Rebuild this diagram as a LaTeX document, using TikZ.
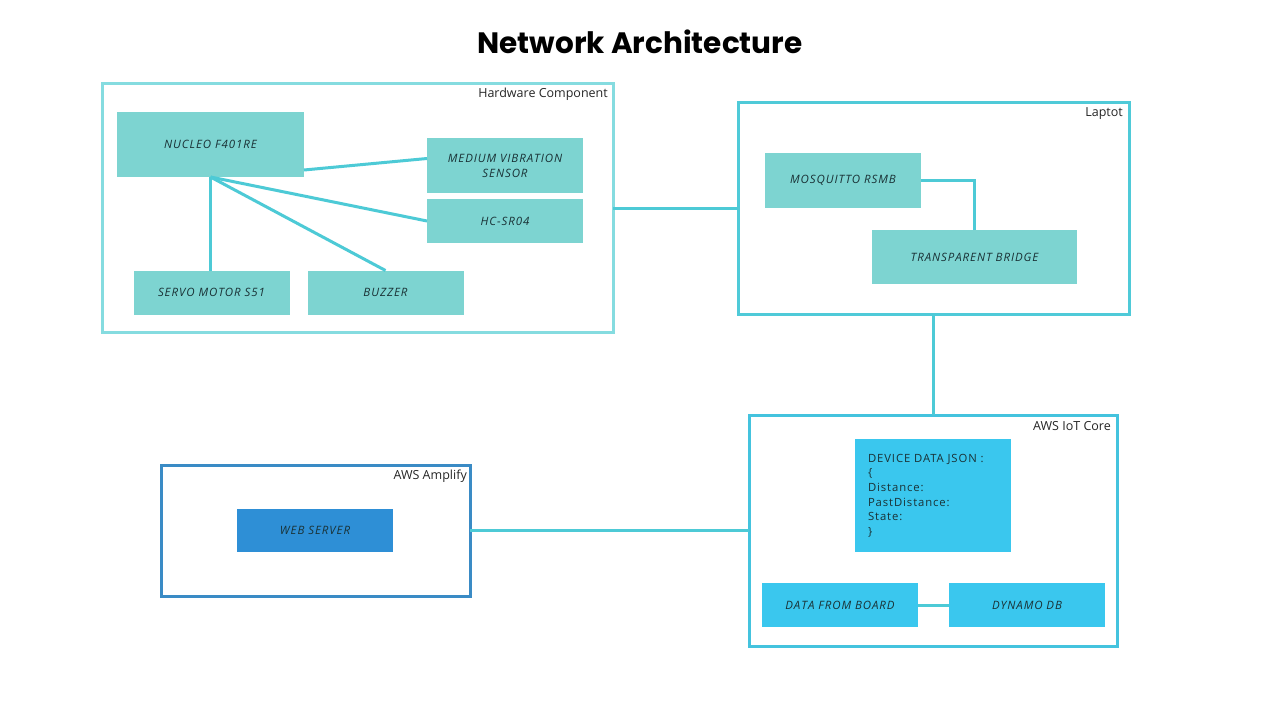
\documentclass[tikz,border=0pt]{standalone}
\usepackage{fontspec}
\setmainfont{Open Sans}
\newfontfamily\titulofont{Poppins}
\newfontfamily\cajafont[LetterSpace=8]{Open Sans}
\definecolor{verdeagua}{HTML}{7DD4D1}
\definecolor{bordeclaro}{HTML}{85DCE0}
\definecolor{bordelap}{HTML}{4FCAD8}
\definecolor{linea}{HTML}{4DCAD6}
\definecolor{celeste}{HTML}{3AC7EE}
\definecolor{bordeiot}{HTML}{44C3DE}
\definecolor{azulamp}{HTML}{3A8BC5}
\definecolor{azulweb}{HTML}{2E8FD6}
\definecolor{texto}{HTML}{1A3236}
\begin{document}
\begin{tikzpicture}[x=1pt, y=-1pt,
	marco/.style={draw, line width=3pt, outer sep=0pt, inner sep=0pt},
	etiqueta/.style={anchor=north east, inner sep=0pt, font=\fontsize{12.5}{14}\selectfont, text=black!85},
	bloque/.style={fill=verdeagua, inner sep=0pt, outer sep=0pt, align=center, text=texto, font=\cajafont\itshape\fontsize{11.5}{15}\selectfont, minimum width=156pt, minimum height=44pt},
	enlace/.style={draw=linea, line width=3pt}]
	\useasboundingbox[fill=white] (0,0) rectangle (1280,720);
			% Titulo
				\node[font=\titulofont\bfseries\fontsize{29.5}{34}\selectfont] (titulo) at (640,42) {Network Architecture};
			
			% Marcos
				\node[marco, draw=bordeclaro, minimum width=511pt, minimum height=249pt] (hw) at (357.5,208) {};
				\node[marco, draw=bordelap, minimum width=391pt, minimum height=212pt] (laptop) at (933.5,208) {};
				\node[marco, draw=bordeiot, minimum width=368pt, minimum height=231pt] (iot) at (933,530.5) {};
				\node[marco, draw=azulamp, minimum width=309pt, minimum height=131pt] (amplify) at (315.5,530.5) {};
				
				\node[etiqueta] (hwlabel) at ([xshift=-5pt,yshift=-4pt]hw.north east) {Hardware Component};
				\node[etiqueta] (laplabel) at ([xshift=-6pt,yshift=-5pt]laptop.north east) {Laptot};
				\node[etiqueta] (iotlabel) at ([xshift=-6pt,yshift=-6pt]iot.north east) {AWS IoT Core};
				\node[etiqueta] (amplabel) at ([xshift=-3pt,yshift=-5pt]amplify.north east) {AWS Amplify};
			
			% Hardware
				\node[bloque, minimum width=187pt, minimum height=65pt] (nucleo) at (210.5,144.5) {NUCLEO F401RE};
				\node[bloque, minimum height=55pt] (mvs) at (505,165.5) {MEDIUM VIBRATION\\SENSOR};
				\node[bloque] (hcsr) at (505,221) {HC-SR04};
				\node[bloque] (servo) at (211.5,292.5) {SERVO MOTOR S51};
				\node[bloque] (buzzer) at (385.5,292.5) {BUZZER};
			
			% Laptop
				\node[bloque, minimum height=55pt] (mosq) at (843,180.5) {MOSQUITTO RSMB};
				\node[bloque, minimum width=205pt, minimum height=54pt] (bridge) at (974.5,257) {TRANSPARENT BRIDGE};
			
			% AWS
				\node[bloque, fill=celeste, font=\cajafont\fontsize{11.3}{14.6}\selectfont, align=left, text width=130pt, inner xsep=13pt, minimum height=113pt] (json) at (933,495.5) {DEVICE DATA JSON :\\\{\\Distance:\\PastDistance:\\State:\\\}};
				\node[bloque, fill=celeste] (dfb) at (840,605) {DATA FROM BOARD};
				\node[bloque, fill=celeste] (dynamo) at (1027,605) {DYNAMO DB};
				\node[bloque, fill=azulweb, minimum height=43pt] (web) at (315,530.5) {WEB SERVER};
			
			% Conexiones
				\draw[enlace] ([yshift=7pt]nucleo.south east) -- ([yshift=7pt]mvs.west);
				\draw[enlace] (nucleo.south) -- (hcsr.west);
				\draw[enlace] (nucleo.south) -- (buzzer.north);
				\draw[enlace] (nucleo.south) -- (nucleo.south |- servo.north);
				\draw[enlace] (hw.east) -- (laptop.west);
				\draw[enlace] (mosq.east) -| (bridge.north);
				\draw[enlace] (laptop.south) -- (laptop.south |- iot.north);
				\draw[enlace] (iot.west) -- (amplify.east);
				\draw[enlace] (dfb.east) -- (dynamo.west);
\end{tikzpicture}
\end{document}
